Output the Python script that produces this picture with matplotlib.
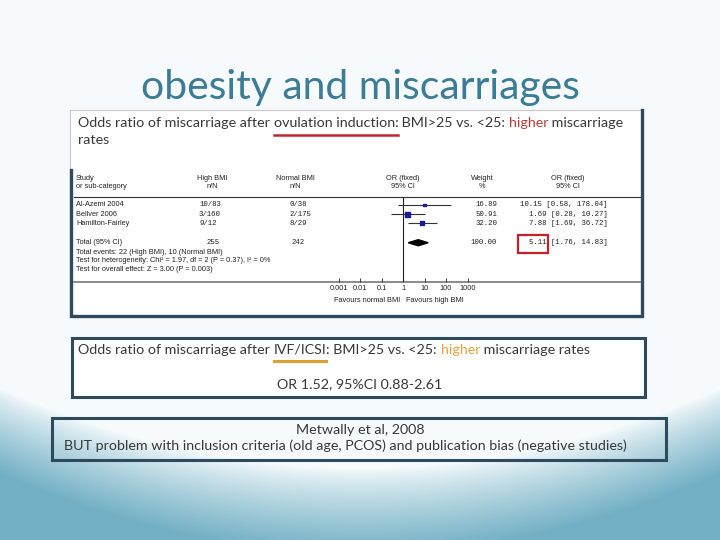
import numpy as np
import matplotlib
matplotlib.use('Agg')
import matplotlib.pyplot as plt
from matplotlib.patches import Rectangle, Polygon

# forest plot data (Metwally et al, 2008 - ovulation induction)
studies = ['Al-Azemi 2004', 'Bellver 2006', 'Hamilton-Fairley']
high_bmi = ['10/83', '3/160', '9/12']
normal_bmi = ['0/38', '2/175', '8/29']
weights = [16.89, 50.91, 32.20]
or_est = [10.15, 1.69, 7.88]
ci_lo = [0.58, 0.28, 1.69]
ci_hi = [178.04, 10.27, 36.72]
total_or, total_lo, total_hi = 5.11, 1.76, 14.83
total_high, total_normal = 255, 242
tick_vals = [0.001, 0.01, 0.1, 1, 10, 100, 1000]
tick_labels = ['0.001', '0.01', '0.1', '1', '10', '100', '1000']

W, H = 720, 540
DARK = '#2d4a5f'
BODY = 'Lato'
SANS = 'Liberation Sans'
MONO = 'Liberation Mono'

fig = plt.figure(figsize=(7.2, 5.4), dpi=100)
ax = fig.add_axes([0, 0, 1, 1])
ax.set_xlim(0, W)
ax.set_ylim(H, 0)
ax.axis('off')

# slide background: near white with a teal swoosh at the bottom
yy, xx = np.mgrid[0:H, 0:W]
edge = 468 - 80 * ((xx - 360) / 360.0) ** 2
t = np.clip((yy - edge) / 85.0, 0, 1) ** 0.8
light = np.array([0.965, 0.983, 0.99])
teal = np.array([0.45, 0.69, 0.77])
bg = light * (1 - t[..., None]) + teal * t[..., None]
ax.imshow(bg, extent=(0, W, H, 0), aspect='auto', zorder=0)

ax.text(360, 88, 'obesity and miscarriages', ha='center', va='center',
        fontsize=29.4, family=BODY, color='#3b7c96')

renderer = fig.canvas.get_renderer()


def width_of(s, size, family):
    tt = ax.text(0, 0, s + 'l', fontsize=size, family=family)
    tl = ax.text(0, 0, 'l', fontsize=size, family=family)
    w = tt.get_window_extent(renderer).width - tl.get_window_extent(renderer).width
    tt.remove()
    tl.remove()
    return w


def coloured_line(x, y, parts, size, family=BODY):
    # draws consecutive pieces of one line, returns (x0, x1) of each piece
    spans = []
    prefix = ''
    for s, c in parts:
        x0 = x + width_of(prefix, size, family) if prefix else x
        ax.text(x0, y, s, color=c, fontsize=size, family=family, va='center')
        prefix += s
        spans.append((x0, x + width_of(prefix, size, family)))
    return spans


# ---- box 1: forest plot
ax.add_patch(Rectangle((70, 110), 572, 206, facecolor='white', edgecolor='#c8c8c8',
                       lw=0.8, zorder=1))
ax.plot([642, 642, 70.5, 70.5], [110, 316, 316, 170], color=DARK, lw=2.4, zorder=2,
        solid_joinstyle='miter')

txt = '#383838'
fs = 10.3
spans = coloured_line(78, 123, [('Odds ratio of miscarriage after ', txt),
                                ('ovulation induction:', txt),
                                (' BMI>25 vs. <25: ', txt),
                                ('higher', '#c0393b'),
                                (' miscarriage', txt)], fs)
ax.plot([spans[1][0], spans[1][1]], [134.5, 134.5], color='#c0282d', lw=1.8)
ax.text(78, 140, 'rates', fontsize=fs, family=BODY, color=txt, va='center')

sfs = 5.3
ink = '#222222'
heads = [(76, 'left', 'Study', 'or sub-category'),
         (212, 'center', 'High BMI', 'n/N'),
         (295, 'center', 'Normal BMI', 'n/N'),
         (403, 'center', 'OR (fixed)', '95% CI'),
         (482, 'center', 'Weight', '%'),
         (568, 'center', 'OR (fixed)', '95% CI')]
for hx, ha, h1, h2 in heads:
    ax.text(hx, 178, h1, ha=ha, va='center', fontsize=sfs, family=SANS, color=ink)
    ax.text(hx, 187, h2, ha=ha, va='center', fontsize=sfs, family=SANS, color=ink)
ax.plot([74, 640], [197, 197], color='#333333', lw=0.8)
ax.plot([74, 640], [281.5, 281.5], color='#777777', lw=1.2)

ROW0, PITCH = 205, 9.2
TOTAL_ROW = 4.1


def row_y(i):
    return ROW0 + PITCH * i


for i in range(len(studies)):
    y = row_y(i)
    ax.text(76, y, studies[i], va='center', fontsize=sfs, family=SANS, color=ink)
    ax.text(199, y, high_bmi[i], va='center', fontsize=sfs, family=MONO, color=ink)
    ax.text(290, y, normal_bmi[i], va='center', fontsize=sfs, family=MONO, color=ink)
    ax.text(497, y, '%.2f' % weights[i], ha='right', va='center', fontsize=sfs,
            family=MONO, color=ink)
    ax.text(608, y, '%.2f [%.2f, %.2f]' % (or_est[i], ci_lo[i], ci_hi[i]), ha='right',
            va='center', fontsize=sfs, family=MONO, color=ink)

yt = row_y(TOTAL_ROW)
ax.text(76, yt, 'Total (95% CI)', va='center', fontsize=sfs, family=SANS, color=ink)
ax.text(213, yt, str(total_high), ha='center', va='center', fontsize=sfs, family=MONO, color=ink)
ax.text(298, yt, str(total_normal), ha='center', va='center', fontsize=sfs, family=MONO, color=ink)
ax.text(497, yt, '%.2f' % sum(weights), ha='right', va='center', fontsize=sfs, family=MONO, color=ink)
ax.text(608, yt, '%.2f [%.2f, %.2f]' % (total_or, total_lo, total_hi), ha='right',
        va='center', fontsize=sfs, family=MONO, color=ink)
ax.add_patch(Rectangle((518, 235), 30, 18, fill=False, edgecolor='#c8202a', lw=1.6, zorder=5))

notes = ['Total events: 22 (High BMI), 10 (Normal BMI)',
         'Test for heterogeneity: Chi\u00b2 = 1.97, df = 2 (P = 0.37), I\u00b2 = 0%',
         'Test for overall effect: Z = 3.00 (P = 0.003)']
for k, s in enumerate(notes):
    ax.text(76, 252 + 8.7 * k, s, va='center', fontsize=sfs, family=SANS, color=ink)

ax.text(367, 300, 'Favours normal BMI', ha='center', va='center', fontsize=sfs,
        family=SANS, color=ink)
ax.text(435, 300, 'Favours high BMI', ha='center', va='center', fontsize=sfs,
        family=SANS, color=ink)

# log-scale forest axes: OR 1 at x=403 px, 21.5 px per decade
px_one, px_dec = 403, 21.5
fl, fr, ft, fb = 330, 480, 197, 281.5
fax = fig.add_axes([fl / W, 1 - fb / H, (fr - fl) / W, (fb - ft) / H])
fax.patch.set_alpha(0)
fax.set_xscale('log')
fax.set_xlim(10 ** ((fl - px_one) / px_dec), 10 ** ((fr - px_one) / px_dec))
fax.set_ylim((fb - ROW0) / PITCH, (ft - ROW0) / PITCH)
for sp in fax.spines.values():
    sp.set_visible(False)
fax.set_yticks([])
fax.set_xticks(tick_vals)
fax.set_xticklabels(tick_labels)
fax.minorticks_off()
fax.tick_params(axis='x', direction='in', length=3, width=0.6, pad=2.5,
                labelsize=sfs, colors=ink)
for lab in fax.get_xticklabels():
    lab.set_family(SANS)
fax.axvline(1, color='#222222', lw=0.8)

rows = np.arange(len(studies))
fax.hlines(rows, ci_lo, ci_hi, color='#333333', lw=0.8)
fax.scatter(or_est, rows, s=np.array(weights) * 0.25, marker='s', color='#1c1c9a', zorder=3)
fax.add_patch(Polygon([(total_lo, TOTAL_ROW), (total_or, TOTAL_ROW - 0.33),
                       (total_hi, TOTAL_ROW), (total_or, TOTAL_ROW + 0.33)],
                      closed=True, color='black', zorder=3))

# ---- box 2: IVF/ICSI
ax.add_patch(Rectangle((72, 338), 573, 59, facecolor='white', edgecolor=DARK, lw=2.2, zorder=1))
spans2 = coloured_line(78, 350, [('Odds ratio of miscarriage after ', txt),
                                 ('IVF/ICSI', txt),
                                 (': BMI>25 vs. <25: ', txt),
                                 ('higher', '#e8a33a'),
                                 (' miscarriage rates', txt)], fs)
ax.plot([spans2[1][0], spans2[1][1]], [361, 361], color='#e0a030', lw=2.2)
ax.text(360, 384, 'OR 1.52, 95%CI 0.88-2.61', ha='center', va='center', fontsize=fs,
        family=BODY, color=txt)

# ---- box 3: source / caveat
ax.add_patch(Rectangle((52, 418), 614, 42, fill=False, edgecolor=DARK, lw=2.2, zorder=1))
ax.text(360, 430, 'Metwally et al, 2008', ha='center', va='center', fontsize=fs,
        family=BODY, color=txt)
ax.text(345, 446, 'BUT problem with inclusion criteria (old age, PCOS) and publication bias '
        '(negative studies)', ha='center', va='center', fontsize=fs, family=BODY, color=txt)

fig.savefig('out.png', dpi=100)
